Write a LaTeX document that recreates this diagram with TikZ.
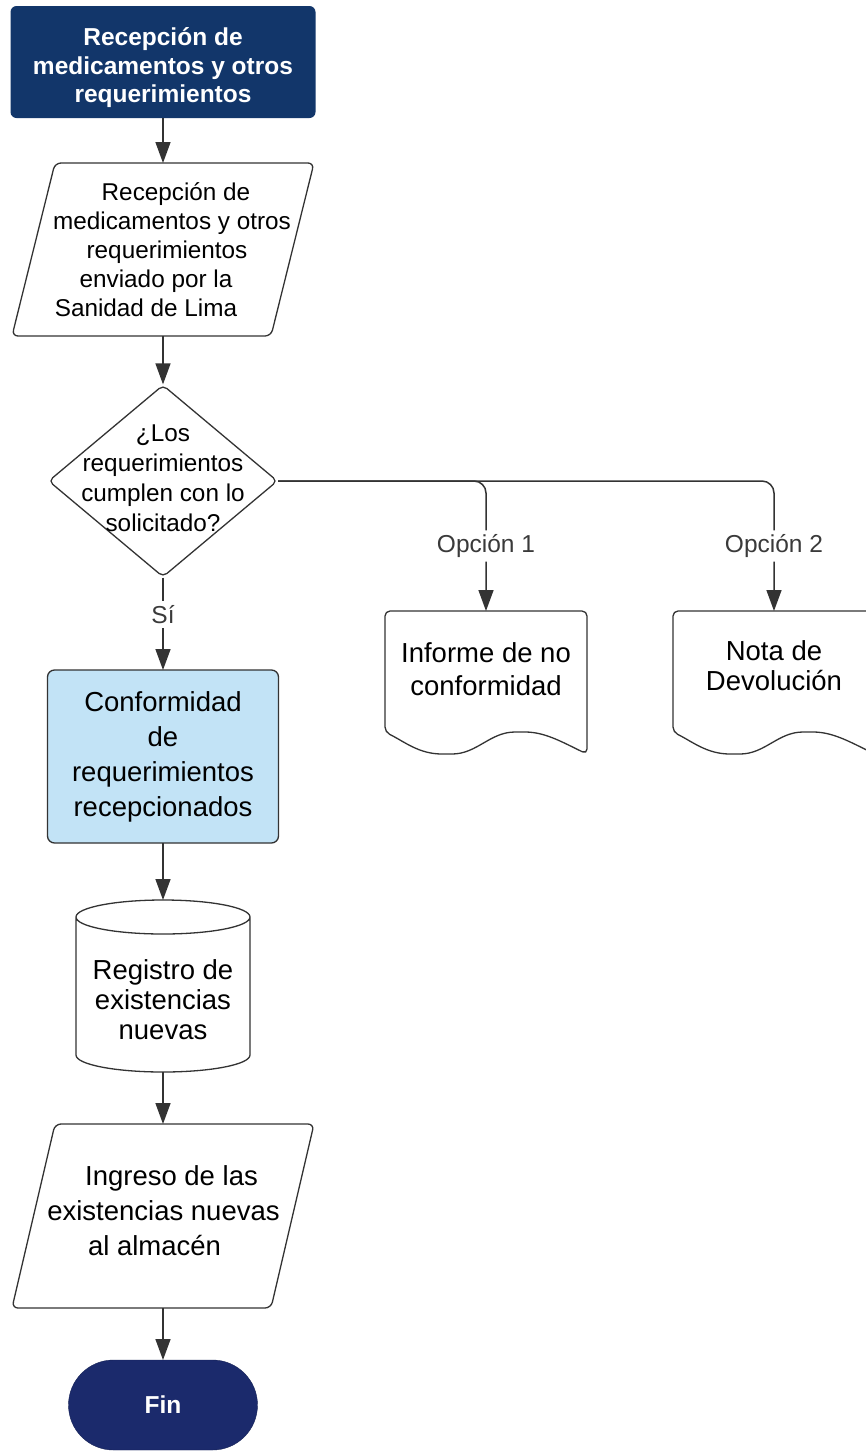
\documentclass[tikz,border=0pt]{standalone}
\usepackage{fontspec}
\setmainfont{Liberation Sans}
\usetikzlibrary{arrows.meta,shapes.geometric,calc}

\definecolor{navy}{HTML}{12366A}
\definecolor{indigo}{HTML}{1B2A6C}
\definecolor{paleblue}{HTML}{C2E3F6}
\definecolor{ink}{HTML}{333333}
\definecolor{lblgray}{HTML}{3A3A3A}

\tikzset{
  conn/.style={draw=ink, line width=1.5pt, -{Triangle[length=21pt,width=15pt]}},
  outline/.style={draw=ink, line width=1.3pt},
  area/.style={inner sep=0pt, outer sep=0pt},
  lbl/.style={fill=white, text=lblgray, inner sep=4pt, font=\fontsize{24.5}{29}\selectfont},
  boxtext/.style={area, align=center},
}

\begin{document}
\begin{tikzpicture}[x=1pt, y=-1pt]
  \useasboundingbox (0,0) rectangle (866,1452);
  \clip (0,0) rectangle (866,1452);
  \fill[white] (0,0) rectangle (866,1452);

  % start block
  \node[area, minimum width=305pt, minimum height=112pt, fill=navy,
        rounded corners=6pt] (start) at (163,62) {};
  \node[boxtext, text=white, font=\bfseries\fontsize{24.5}{28.5}\selectfont]
        (startt) at (163,68) {Recepción de\\medicamentos y otros\\requerimientos};

  % input: reception of the shipment
  \node[boxtext, minimum width=259pt, minimum height=173pt,
        font=\fontsize{24.3}{29}\selectfont] (p1) at (163,249.5)
        {\hspace*{26pt}Recepción de\\\hspace*{18pt}medicamentos y otros\\\hspace*{8pt}requerimientos\\\hspace*{-14pt}enviado por la\\\hspace*{-34pt}Sanidad de Lima};
  \draw[outline, rounded corners=6pt]
        ([xshift=21.5pt]p1.north west) -- ([xshift=21.5pt]p1.north east)
     -- ([xshift=-21.5pt]p1.south east) -- ([xshift=-21.5pt]p1.south west) -- cycle;

  % decision
  \node[outline, diamond, minimum width=229pt, minimum height=192pt,
        inner sep=0pt, rounded corners=5pt] (dec) at (163,481) {};
  \node[boxtext, font=\fontsize{24.3}{30}\selectfont] (dect) at (163,478)
        {¿Los\\requerimientos\\cumplen con lo\\solicitado?};

  % conformity process
  \node[boxtext, fill=paleblue, draw=ink, line width=1.3pt, rounded corners=7pt,
        minimum width=231pt, minimum height=173pt,
        font=\fontsize{27.5}{35}\selectfont] (conf) at (163,756.5)
        {Conformidad\\de\\requerimientos\\recepcionados};

  % documents for the rejected options
  \node[area, minimum width=202pt, minimum height=143pt] (doc1) at (486,682.5) {};
  \node[area, minimum width=202pt, minimum height=143pt] (doc2) at (774,682.5) {};
  \foreach \d in {doc1,doc2}{
    \draw[outline, rounded corners=5pt]
      (\d.south east)
      .. controls +(-25pt,12pt) and +(25pt,0pt) .. ($(\d.south west)+(135pt,22pt)$)
      .. controls +(-30pt,0pt) and +(30pt,0pt) .. ($(\d.south west)+(62pt,0pt)$)
      .. controls +(-28pt,0pt) and +(20pt,-10pt) .. ($(\d.south west)+(0pt,22pt)$)
      -- (\d.north west) -- (\d.north east) -- cycle;
  }
  \node[boxtext, font=\fontsize{27.5}{33}\selectfont] (doc1t) at (486,669)
        {Informe de no\\conformidad};
  \node[boxtext, font=\fontsize{27.5}{30}\selectfont] (doc2t) at (774,666)
        {Nota de\\Devolución};

  % stock register
  \node[area, minimum width=174pt, minimum height=172pt] (cyl) at (163,986) {};
  \draw[outline]
    ([yshift=-17pt]cyl.north west) -- ([yshift=17pt]cyl.south west)
    arc[start angle=180, end angle=360, x radius=87pt, y radius=17pt]
    -- ([yshift=-17pt]cyl.north east)
    arc[start angle=0, end angle=180, x radius=87pt, y radius=17pt]
    arc[start angle=180, end angle=360, x radius=87pt, y radius=17pt];
  \node[boxtext, font=\fontsize{27.5}{30}\selectfont] (cylt) at (163,1000)
        {Registro de\\existencias\\nuevas};

  % input: storage
  \node[area, minimum width=259pt, minimum height=184pt] (p2) at (163,1216) {};
  \node[boxtext, font=\fontsize{27.5}{35}\selectfont] (p2t) at (163,1211)
        {\hspace*{17pt}Ingreso de las\\\hspace*{1pt}existencias nuevas\\\hspace*{-17pt}al almacén};
  \draw[outline, rounded corners=6pt]
        ([xshift=21.5pt]p2.north west) -- ([xshift=21.5pt]p2.north east)
     -- ([xshift=-21.5pt]p2.south east) -- ([xshift=-21.5pt]p2.south west) -- cycle;

  % end
  \node[area, fill=indigo, draw=indigo!80!black, minimum width=189pt, minimum height=90pt,
        rounded corners=45pt, text=white,
        font=\bfseries\fontsize{24.5}{29}\selectfont] (fin) at (163,1405) {Fin};

  % connectors
  \draw[conn] (start.south) -- (p1.north);
  \draw[conn] (p1.south) -- (dec.north);
  \draw[conn] (dec.south) -- node[lbl, pos=0.4] {Sí} (conf.north);
  \draw[conn, rounded corners=12pt] (dec.east) -| node[lbl, pos=0.75] {Opción 1} (doc1.north);
  \draw[conn, rounded corners=12pt] (dec.east) -| node[lbl, pos=0.75] {Opción 2} (doc2.north);
  \draw[conn] (conf.south) -- (cyl.north);
  \draw[conn] (cyl.south) -- (p2.north);
  \draw[conn] (p2.south) -- (fin.north);
\end{tikzpicture}
\end{document}
